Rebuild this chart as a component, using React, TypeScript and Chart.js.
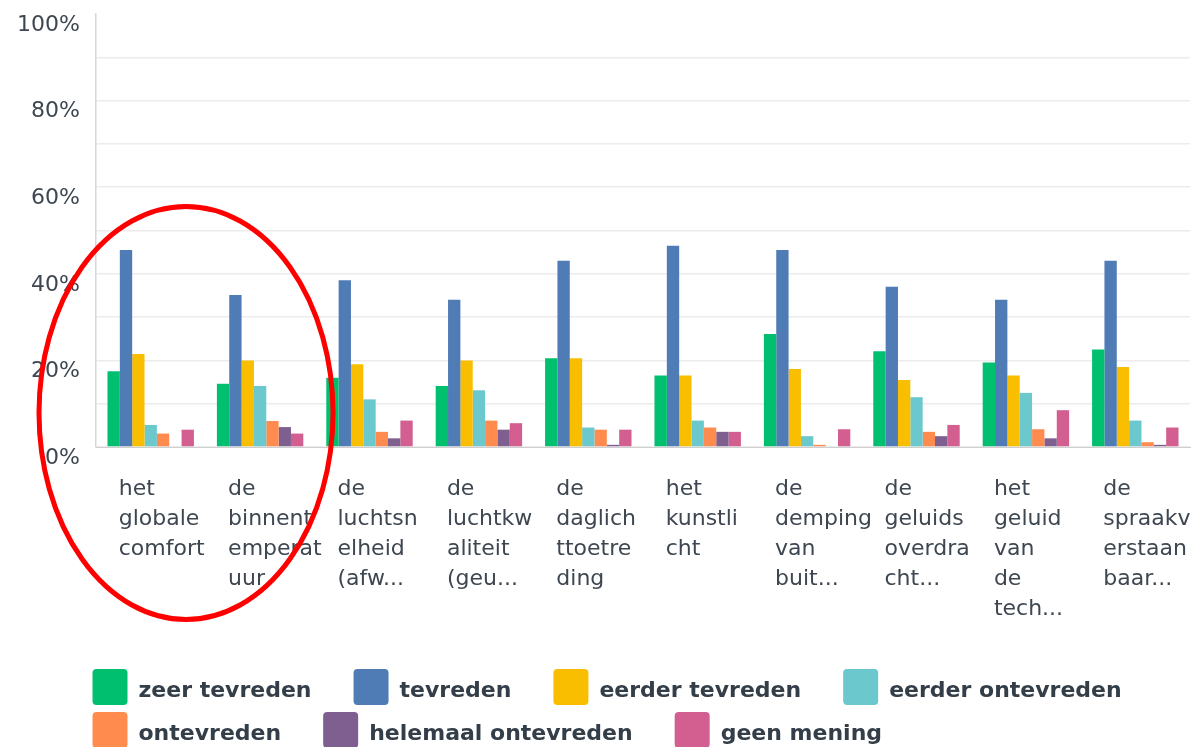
import React, { useEffect, useRef } from 'react';
import { Chart, registerables } from 'chart.js';

Chart.register(...registerables);

// ---- data ----
const categories: string[][] = [
  ['het', 'globale', 'comfort'],
  ['de', 'binnent', 'emperat', 'uur'],
  ['de', 'luchtsn', 'elheid', '(afw...'],
  ['de', 'luchtkw', 'aliteit', '(geu...'],
  ['de', 'daglich', 'ttoetre', 'ding'],
  ['het', 'kunstli', 'cht'],
  ['de', 'demping', 'van', 'buit...'],
  ['de', 'geluids', 'overdra', 'cht...'],
  ['het', 'geluid', 'van', 'de', 'tech...'],
  ['de', 'spraakv', 'erstaan', 'baar...'],
];

const seriesNames: string[] = [
  'zeer tevreden',
  'tevreden',
  'eerder tevreden',
  'eerder ontevreden',
  'ontevreden',
  'helemaal ontevreden',
  'geen mening',
];

const zeerTevreden = [17.5, 14.6, 16.0, 14.1, 20.5, 16.5, 26.1, 22.1, 19.5, 22.5];
const tevreden = [45.5, 35.1, 38.5, 34.0, 43.0, 46.5, 45.5, 37.0, 34.0, 43.0];
const eerderTevreden = [21.5, 20.0, 19.1, 20.0, 20.5, 16.5, 18.0, 15.5, 16.5, 18.5];
const eerderOntevreden = [5.1, 14.1, 11.0, 13.1, 4.5, 6.1, 2.5, 11.5, 12.5, 6.1];
const ontevreden = [3.1, 6.0, 3.5, 6.1, 4.0, 4.5, 0.5, 3.5, 4.1, 1.1];
const helemaalOntevreden = [0, 4.6, 2.0, 4.0, 0.5, 3.5, 0, 2.5, 2.0, 0.5];
const geenMening = [4.0, 3.1, 6.1, 5.5, 4.0, 3.5, 4.1, 5.1, 8.5, 4.5];

const seriesValues: number[][] = [
  zeerTevreden,
  tevreden,
  eerderTevreden,
  eerderOntevreden,
  ontevreden,
  helemaalOntevreden,
  geenMening,
];

const seriesColors: string[] = [
  '#00BF6F',
  '#507CB6',
  '#F9BE00',
  '#6BC8CD',
  '#FF8B4F',
  '#7F5F90',
  '#D25F90',
];

const yTickValues = [0, 20, 40, 60, 80, 100];

// ---- styling constants ----
const FONT = '"DejaVu Sans", sans-serif';
const TEXT_COLOR = '#3e4751';

const legendPlugin = {
  id: 'customLegend',
  afterDraw(chart: any) {
    const ctx = chart.ctx as CanvasRenderingContext2D;
    const startX = 92.5;
    const baseline0 = 697;
    const boxTop0 = 669;
    const rowH = 43;
    const boxW = 35;
    const boxH = 36;
    const textGap = 11;
    const itemGap = 42;
    ctx.save();
    ctx.font = 'bold 22px ' + FONT;
    ctx.textBaseline = 'alphabetic';
    ctx.textAlign = 'left';
    let x = startX;
    let row = 0;
    chart.data.datasets.forEach((ds: any) => {
      const w = ctx.measureText(ds.label).width;
      const itemW = boxW + textGap + w;
      if (x > startX && x + itemW > chart.width - 4) {
        row++;
        x = startX;
      }
      ctx.fillStyle = ds.backgroundColor;
      ctx.beginPath();
      (ctx as any).roundRect(x, boxTop0 + row * rowH, boxW, boxH, 4);
      ctx.fill();
      ctx.fillStyle = '#333e48';
      ctx.fillText(ds.label, x + boxW + textGap, baseline0 + row * rowH);
      x += itemW + itemGap;
    });
    ctx.restore();
  },
};

const ellipsePlugin = {
  id: 'redEllipse',
  afterDraw(chart: any) {
    const ctx = chart.ctx as CanvasRenderingContext2D;
    ctx.save();
    ctx.strokeStyle = '#ff0000';
    ctx.lineWidth = 5;
    ctx.beginPath();
    ctx.ellipse(186, 413, 147, 206.5, 0, 0, Math.PI * 2);
    ctx.stroke();
    ctx.restore();
  },
};

export default function App() {
  const canvasRef = useRef<HTMLCanvasElement | null>(null);

  useEffect(() => {
    if (!canvasRef.current) return;
    const chart = new Chart(canvasRef.current, {
      type: 'bar',
      data: {
        labels: categories,
        datasets: seriesNames.map((name, i) => ({
          label: name,
          data: seriesValues[i],
          backgroundColor: seriesColors[i],
          borderWidth: 0,
          barPercentage: 1,
          categoryPercentage: 0.79,
        })),
      },
      options: {
        animation: false,
        responsive: true,
        maintainAspectRatio: false,
        layout: { padding: { top: 14, left: 0, right: 6, bottom: 0 } },
        plugins: {
          legend: { display: false },
          tooltip: { enabled: false },
        },
        scales: {
          x: {
            grid: { display: false, drawTicks: false },
            border: { display: true, color: '#cfcfcf', width: 1 },
            ticks: {
              autoSkip: false,
              maxRotation: 0,
              minRotation: 0,
              align: 'start',
              labelOffset: -32,
              padding: 27,
              color: TEXT_COLOR,
              font: { family: FONT, size: 22, lineHeight: '30px' as any },
            },
            afterFit: (scale: any) => {
              scale.height = 300;
              scale.paddingLeft = 0;
              scale.paddingRight = 0;
            },
          },
          y: {
            min: 0,
            max: 100,
            grid: {
              drawTicks: false,
              color: (c: any) => (c.tick && c.tick.value === 100 ? 'rgba(0,0,0,0)' : '#ececec'),
              lineWidth: 1.5,
            },
            border: { display: true, color: '#d6d6d6', width: 1.5 },
            ticks: {
              stepSize: 10,
              padding: 16,
              labelOffset: 11,
              color: TEXT_COLOR,
              font: { family: FONT, size: 22 },
              callback: (v: any) => (yTickValues.includes(Number(v)) ? v + '%' : ''),
            },
            afterFit: (scale: any) => {
              scale.width = 96;
              scale.paddingTop = 0;
              scale.paddingBottom = 0;
            },
          },
        },
      },
      plugins: [legendPlugin, ellipsePlugin],
    });
    return () => chart.destroy();
  }, []);

  return (
    <div
      style={{
        position: 'absolute',
        left: 0,
        top: 0,
        width: 1196,
        height: 747,
        background: '#ffffff',
      }}
    >
      <canvas ref={canvasRef} />
    </div>
  );
}
